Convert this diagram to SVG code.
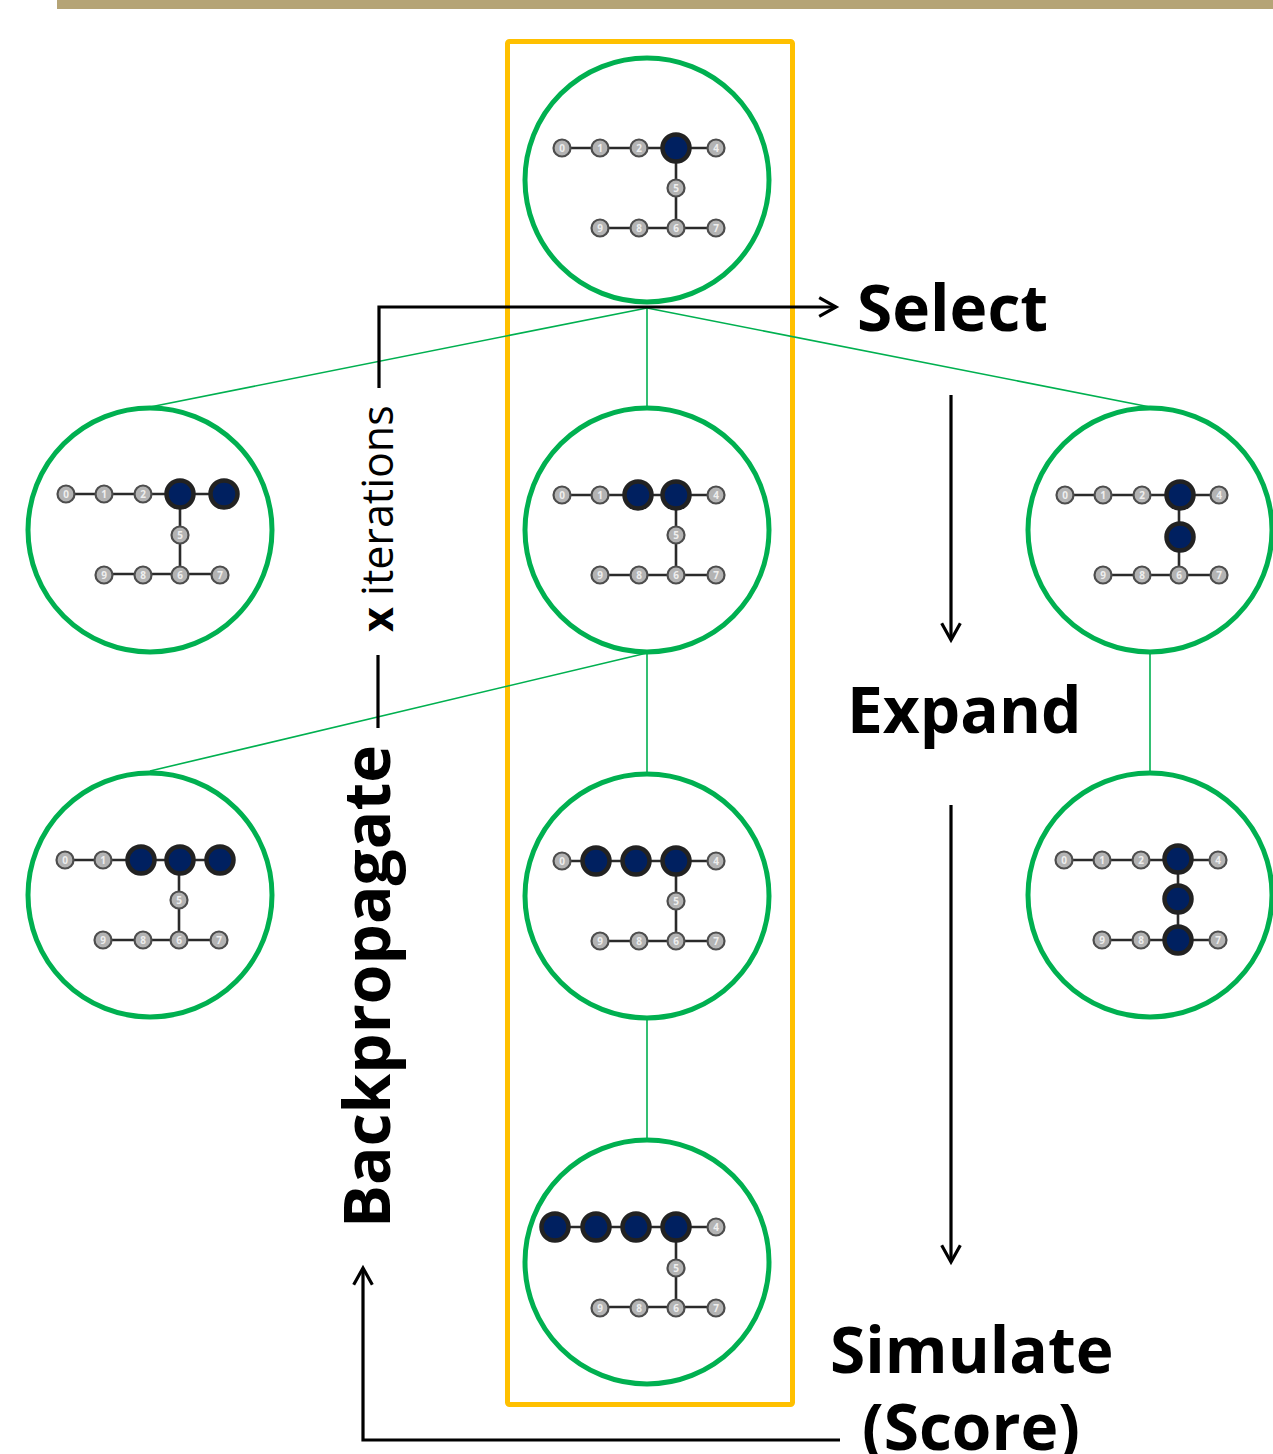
<svg xmlns="http://www.w3.org/2000/svg" xmlns:xlink="http://www.w3.org/1999/xlink" width="1273" height="1454" viewBox="0 0 1273 1454">
  <style>
    .state { fill: #ffffff; stroke: #00b050; stroke-width: 5; }
    .tree { stroke: #00b050; stroke-width: 1.6; fill: none; }
    .flow { stroke: #000000; stroke-width: 3.2; fill: none; }
    .edge { stroke: #2a2a2a; stroke-width: 2.6; }
    .sm { fill: #b3b3b3; stroke: #4d4d4d; stroke-width: 2.2; }
    .bg { fill: #002060; stroke: #222222; stroke-width: 4.5; }
    .num { font-family: "Open Sans", "Liberation Sans", sans-serif; font-weight: 700; font-size: 10px; fill: #eeeeee; text-anchor: middle; }
    .lbl { font-family: "Open Sans", "Liberation Sans", sans-serif; font-weight: 700; font-size: 64px; fill: #000000; }
    .iter { font-family: "Open Sans", "Liberation Sans", sans-serif; font-size: 43px; fill: #000000; }
  </style>
  <defs>
    <marker id="chev" viewBox="0 0 12 12" refX="10" refY="6" markerWidth="7" markerHeight="7" markerUnits="strokeWidth" orient="auto">
      <path d="M1,1 L10,6 L1,11" fill="none" stroke="#000" stroke-width="1.7"/>
    </marker>
    <!-- bond skeleton shared by every molecule graph; node 0 at origin -->
    <g id="skel">
      <line class="edge" x1="0" y1="0" x2="154" y2="0"/>
      <line class="edge" x1="114" y1="0" x2="114" y2="80"/>
      <line class="edge" x1="38" y1="80" x2="154" y2="80"/>
    </g>
  </defs>

  <rect x="57" y="0" width="1216" height="9" fill="#b5a476"/>

  <!-- highlighted search path -->
  <rect x="507.5" y="41.5" width="285" height="1363" rx="2" fill="none" stroke="#ffc000" stroke-width="5"/>

  <!-- tree edges and process arrows -->
  <g id="connectors">
    <line class="tree" x1="647" y1="308" x2="150" y2="407"/>
    <line class="tree" x1="647" y1="308" x2="647" y2="407"/>
    <line class="tree" x1="647" y1="308" x2="1150" y2="407"/>
    <line class="tree" x1="647" y1="653" x2="150" y2="771"/>
    <line class="tree" x1="647" y1="653" x2="647" y2="773"/>
    <line class="tree" x1="1150" y1="653" x2="1150" y2="772"/>
    <line class="tree" x1="647" y1="1019" x2="647" y2="1139"/>

    <path class="flow" d="M379,388 L379,307 L836,307" marker-end="url(#chev)"/>
    <line class="flow" x1="378" y1="655" x2="378" y2="728"/>
    <line class="flow" x1="951" y1="395" x2="951" y2="640" marker-end="url(#chev)"/>
    <line class="flow" x1="951" y1="805" x2="951" y2="1262" marker-end="url(#chev)"/>
    <path class="flow" d="M840,1440 L363,1440 L363,1268" marker-end="url(#chev)"/>
  </g>

  <!-- root state -->
  <g id="s-root">
    <circle class="state" cx="647" cy="180" r="122"/>
    <g transform="translate(562,148)">
      <use xlink:href="#skel"/>
      <circle class="sm" cx="0" cy="0" r="8.5"/><text class="num" x="0" y="3.5">0</text>
      <circle class="sm" cx="38" cy="0" r="8.5"/><text class="num" x="38" y="3.5">1</text>
      <circle class="sm" cx="77" cy="0" r="8.5"/><text class="num" x="77" y="3.5">2</text>
      <circle class="bg" cx="114" cy="0" r="13.5"/>
      <circle class="sm" cx="154" cy="0" r="8.5"/><text class="num" x="154" y="3.5">4</text>
      <circle class="sm" cx="114" cy="40" r="8.5"/><text class="num" x="114" y="43.5">5</text>
      <circle class="sm" cx="38" cy="80" r="8.5"/><text class="num" x="38" y="83.5">9</text>
      <circle class="sm" cx="77" cy="80" r="8.5"/><text class="num" x="77" y="83.5">8</text>
      <circle class="sm" cx="114" cy="80" r="8.5"/><text class="num" x="114" y="83.5">6</text>
      <circle class="sm" cx="154" cy="80" r="8.5"/><text class="num" x="154" y="83.5">7</text>
    </g>
  </g>

  <!-- depth 1 -->
  <g id="s-1a">
    <circle class="state" cx="150" cy="530" r="122"/>
    <g transform="translate(66,494)">
      <use xlink:href="#skel"/>
      <line class="edge" x1="154" y1="0" x2="158" y2="0"/>
      <circle class="sm" cx="0" cy="0" r="8.5"/><text class="num" x="0" y="3.5">0</text>
      <circle class="sm" cx="38" cy="0" r="8.5"/><text class="num" x="38" y="3.5">1</text>
      <circle class="sm" cx="77" cy="0" r="8.5"/><text class="num" x="77" y="3.5">2</text>
      <circle class="bg" cx="114" cy="0" r="13.5"/>
      <circle class="bg" cx="158" cy="0" r="13.5"/>
      <circle class="sm" cx="114" cy="41" r="8.5"/><text class="num" x="114" y="44.5">5</text>
      <circle class="sm" cx="38" cy="81" r="8.5"/><text class="num" x="38" y="84.5">9</text>
      <circle class="sm" cx="77" cy="81" r="8.5"/><text class="num" x="77" y="84.5">8</text>
      <circle class="sm" cx="114" cy="81" r="8.5"/><text class="num" x="114" y="84.5">6</text>
      <circle class="sm" cx="154" cy="81" r="8.5"/><text class="num" x="154" y="84.5">7</text>
    </g>
  </g>

  <g id="s-1b">
    <circle class="state" cx="647" cy="530" r="122"/>
    <g transform="translate(562,495)">
      <use xlink:href="#skel"/>
      <circle class="sm" cx="0" cy="0" r="8.5"/><text class="num" x="0" y="3.5">0</text>
      <circle class="sm" cx="38" cy="0" r="8.5"/><text class="num" x="38" y="3.5">1</text>
      <circle class="bg" cx="76" cy="0" r="13.5"/>
      <circle class="bg" cx="114" cy="0" r="13.5"/>
      <circle class="sm" cx="154" cy="0" r="8.5"/><text class="num" x="154" y="3.5">4</text>
      <circle class="sm" cx="114" cy="40" r="8.5"/><text class="num" x="114" y="43.5">5</text>
      <circle class="sm" cx="38" cy="80" r="8.5"/><text class="num" x="38" y="83.5">9</text>
      <circle class="sm" cx="77" cy="80" r="8.5"/><text class="num" x="77" y="83.5">8</text>
      <circle class="sm" cx="114" cy="80" r="8.5"/><text class="num" x="114" y="83.5">6</text>
      <circle class="sm" cx="154" cy="80" r="8.5"/><text class="num" x="154" y="83.5">7</text>
    </g>
  </g>

  <g id="s-1c">
    <circle class="state" cx="1150" cy="530" r="122"/>
    <g transform="translate(1065,495)">
      <use xlink:href="#skel"/>
      <circle class="sm" cx="0" cy="0" r="8.5"/><text class="num" x="0" y="3.5">0</text>
      <circle class="sm" cx="38" cy="0" r="8.5"/><text class="num" x="38" y="3.5">1</text>
      <circle class="sm" cx="77" cy="0" r="8.5"/><text class="num" x="77" y="3.5">2</text>
      <circle class="bg" cx="115" cy="0" r="13.5"/>
      <circle class="sm" cx="154" cy="0" r="8.5"/><text class="num" x="154" y="3.5">4</text>
      <circle class="bg" cx="115" cy="42" r="13.5"/>
      <circle class="sm" cx="38" cy="80" r="8.5"/><text class="num" x="38" y="83.5">9</text>
      <circle class="sm" cx="77" cy="80" r="8.5"/><text class="num" x="77" y="83.5">8</text>
      <circle class="sm" cx="114" cy="80" r="8.5"/><text class="num" x="114" y="83.5">6</text>
      <circle class="sm" cx="154" cy="80" r="8.5"/><text class="num" x="154" y="83.5">7</text>
    </g>
  </g>

  <!-- depth 2 -->
  <g id="s-2a">
    <circle class="state" cx="150" cy="895" r="122"/>
    <g transform="translate(65,860)">
      <use xlink:href="#skel"/>
      <circle class="sm" cx="0" cy="0" r="8.5"/><text class="num" x="0" y="3.5">0</text>
      <circle class="sm" cx="38" cy="0" r="8.5"/><text class="num" x="38" y="3.5">1</text>
      <circle class="bg" cx="76" cy="0" r="13.5"/>
      <circle class="bg" cx="115" cy="0" r="13.5"/>
      <circle class="bg" cx="155" cy="0" r="13.5"/>
      <circle class="sm" cx="114" cy="40" r="8.5"/><text class="num" x="114" y="43.5">5</text>
      <circle class="sm" cx="38" cy="80" r="8.5"/><text class="num" x="38" y="83.5">9</text>
      <circle class="sm" cx="78" cy="80" r="8.5"/><text class="num" x="78" y="83.5">8</text>
      <circle class="sm" cx="114" cy="80" r="8.5"/><text class="num" x="114" y="83.5">6</text>
      <circle class="sm" cx="154" cy="80" r="8.5"/><text class="num" x="154" y="83.5">7</text>
    </g>
  </g>

  <g id="s-2b">
    <circle class="state" cx="647" cy="896" r="122"/>
    <g transform="translate(562,861)">
      <use xlink:href="#skel"/>
      <circle class="sm" cx="0" cy="0" r="8.5"/><text class="num" x="0" y="3.5">0</text>
      <circle class="bg" cx="34" cy="0" r="13.5"/>
      <circle class="bg" cx="74" cy="0" r="13.5"/>
      <circle class="bg" cx="114" cy="0" r="13.5"/>
      <circle class="sm" cx="154" cy="0" r="8.5"/><text class="num" x="154" y="3.5">4</text>
      <circle class="sm" cx="114" cy="40" r="8.5"/><text class="num" x="114" y="43.5">5</text>
      <circle class="sm" cx="38" cy="80" r="8.5"/><text class="num" x="38" y="83.5">9</text>
      <circle class="sm" cx="77" cy="80" r="8.5"/><text class="num" x="77" y="83.5">8</text>
      <circle class="sm" cx="114" cy="80" r="8.5"/><text class="num" x="114" y="83.5">6</text>
      <circle class="sm" cx="154" cy="80" r="8.5"/><text class="num" x="154" y="83.5">7</text>
    </g>
  </g>

  <g id="s-2c">
    <circle class="state" cx="1150" cy="895" r="122"/>
    <g transform="translate(1064,860)">
      <use xlink:href="#skel"/>
      <circle class="sm" cx="0" cy="0" r="8.5"/><text class="num" x="0" y="3.5">0</text>
      <circle class="sm" cx="38" cy="0" r="8.5"/><text class="num" x="38" y="3.5">1</text>
      <circle class="sm" cx="77" cy="0" r="8.5"/><text class="num" x="77" y="3.5">2</text>
      <circle class="bg" cx="114" cy="-1" r="13.5"/>
      <circle class="sm" cx="154" cy="0" r="8.5"/><text class="num" x="154" y="3.5">4</text>
      <circle class="bg" cx="114" cy="39" r="13.5"/>
      <circle class="sm" cx="38" cy="80" r="8.5"/><text class="num" x="38" y="83.5">9</text>
      <circle class="sm" cx="77" cy="80" r="8.5"/><text class="num" x="77" y="83.5">8</text>
      <circle class="bg" cx="114" cy="80" r="13.5"/>
      <circle class="sm" cx="154" cy="80" r="8.5"/><text class="num" x="154" y="83.5">7</text>
    </g>
  </g>

  <!-- depth 3 -->
  <g id="s-3">
    <circle class="state" cx="647" cy="1262" r="122"/>
    <g transform="translate(562,1227)">
      <use xlink:href="#skel"/>
      <line class="edge" x1="-7" y1="0" x2="0" y2="0"/>
      <circle class="bg" cx="-7" cy="0" r="13.5"/>
      <circle class="bg" cx="34" cy="0" r="13.5"/>
      <circle class="bg" cx="74" cy="0" r="13.5"/>
      <circle class="bg" cx="114" cy="0" r="13.5"/>
      <circle class="sm" cx="154" cy="0" r="8.5"/><text class="num" x="154" y="3.5">4</text>
      <circle class="sm" cx="114" cy="41" r="8.5"/><text class="num" x="114" y="44.5">5</text>
      <circle class="sm" cx="38" cy="81" r="8.5"/><text class="num" x="38" y="84.5">9</text>
      <circle class="sm" cx="77" cy="81" r="8.5"/><text class="num" x="77" y="84.5">8</text>
      <circle class="sm" cx="114" cy="81" r="8.5"/><text class="num" x="114" y="84.5">6</text>
      <circle class="sm" cx="154" cy="81" r="8.5"/><text class="num" x="154" y="84.5">7</text>
    </g>
  </g>

  <!-- phase labels -->
  <g id="labels">
    <text class="lbl" x="857" y="331">Select</text>
    <text class="lbl" x="847" y="733">Expand</text>
    <text class="lbl" x="830" y="1373">Simulate</text>
    <text class="lbl" x="862" y="1450">(Score)</text>
    <text class="lbl" transform="translate(390,1228) rotate(-90)">Backpropagate</text>
    <text class="iter" transform="translate(393,632) rotate(-90)"><tspan font-weight="700">x</tspan> iterations</text>
  </g>
</svg>
